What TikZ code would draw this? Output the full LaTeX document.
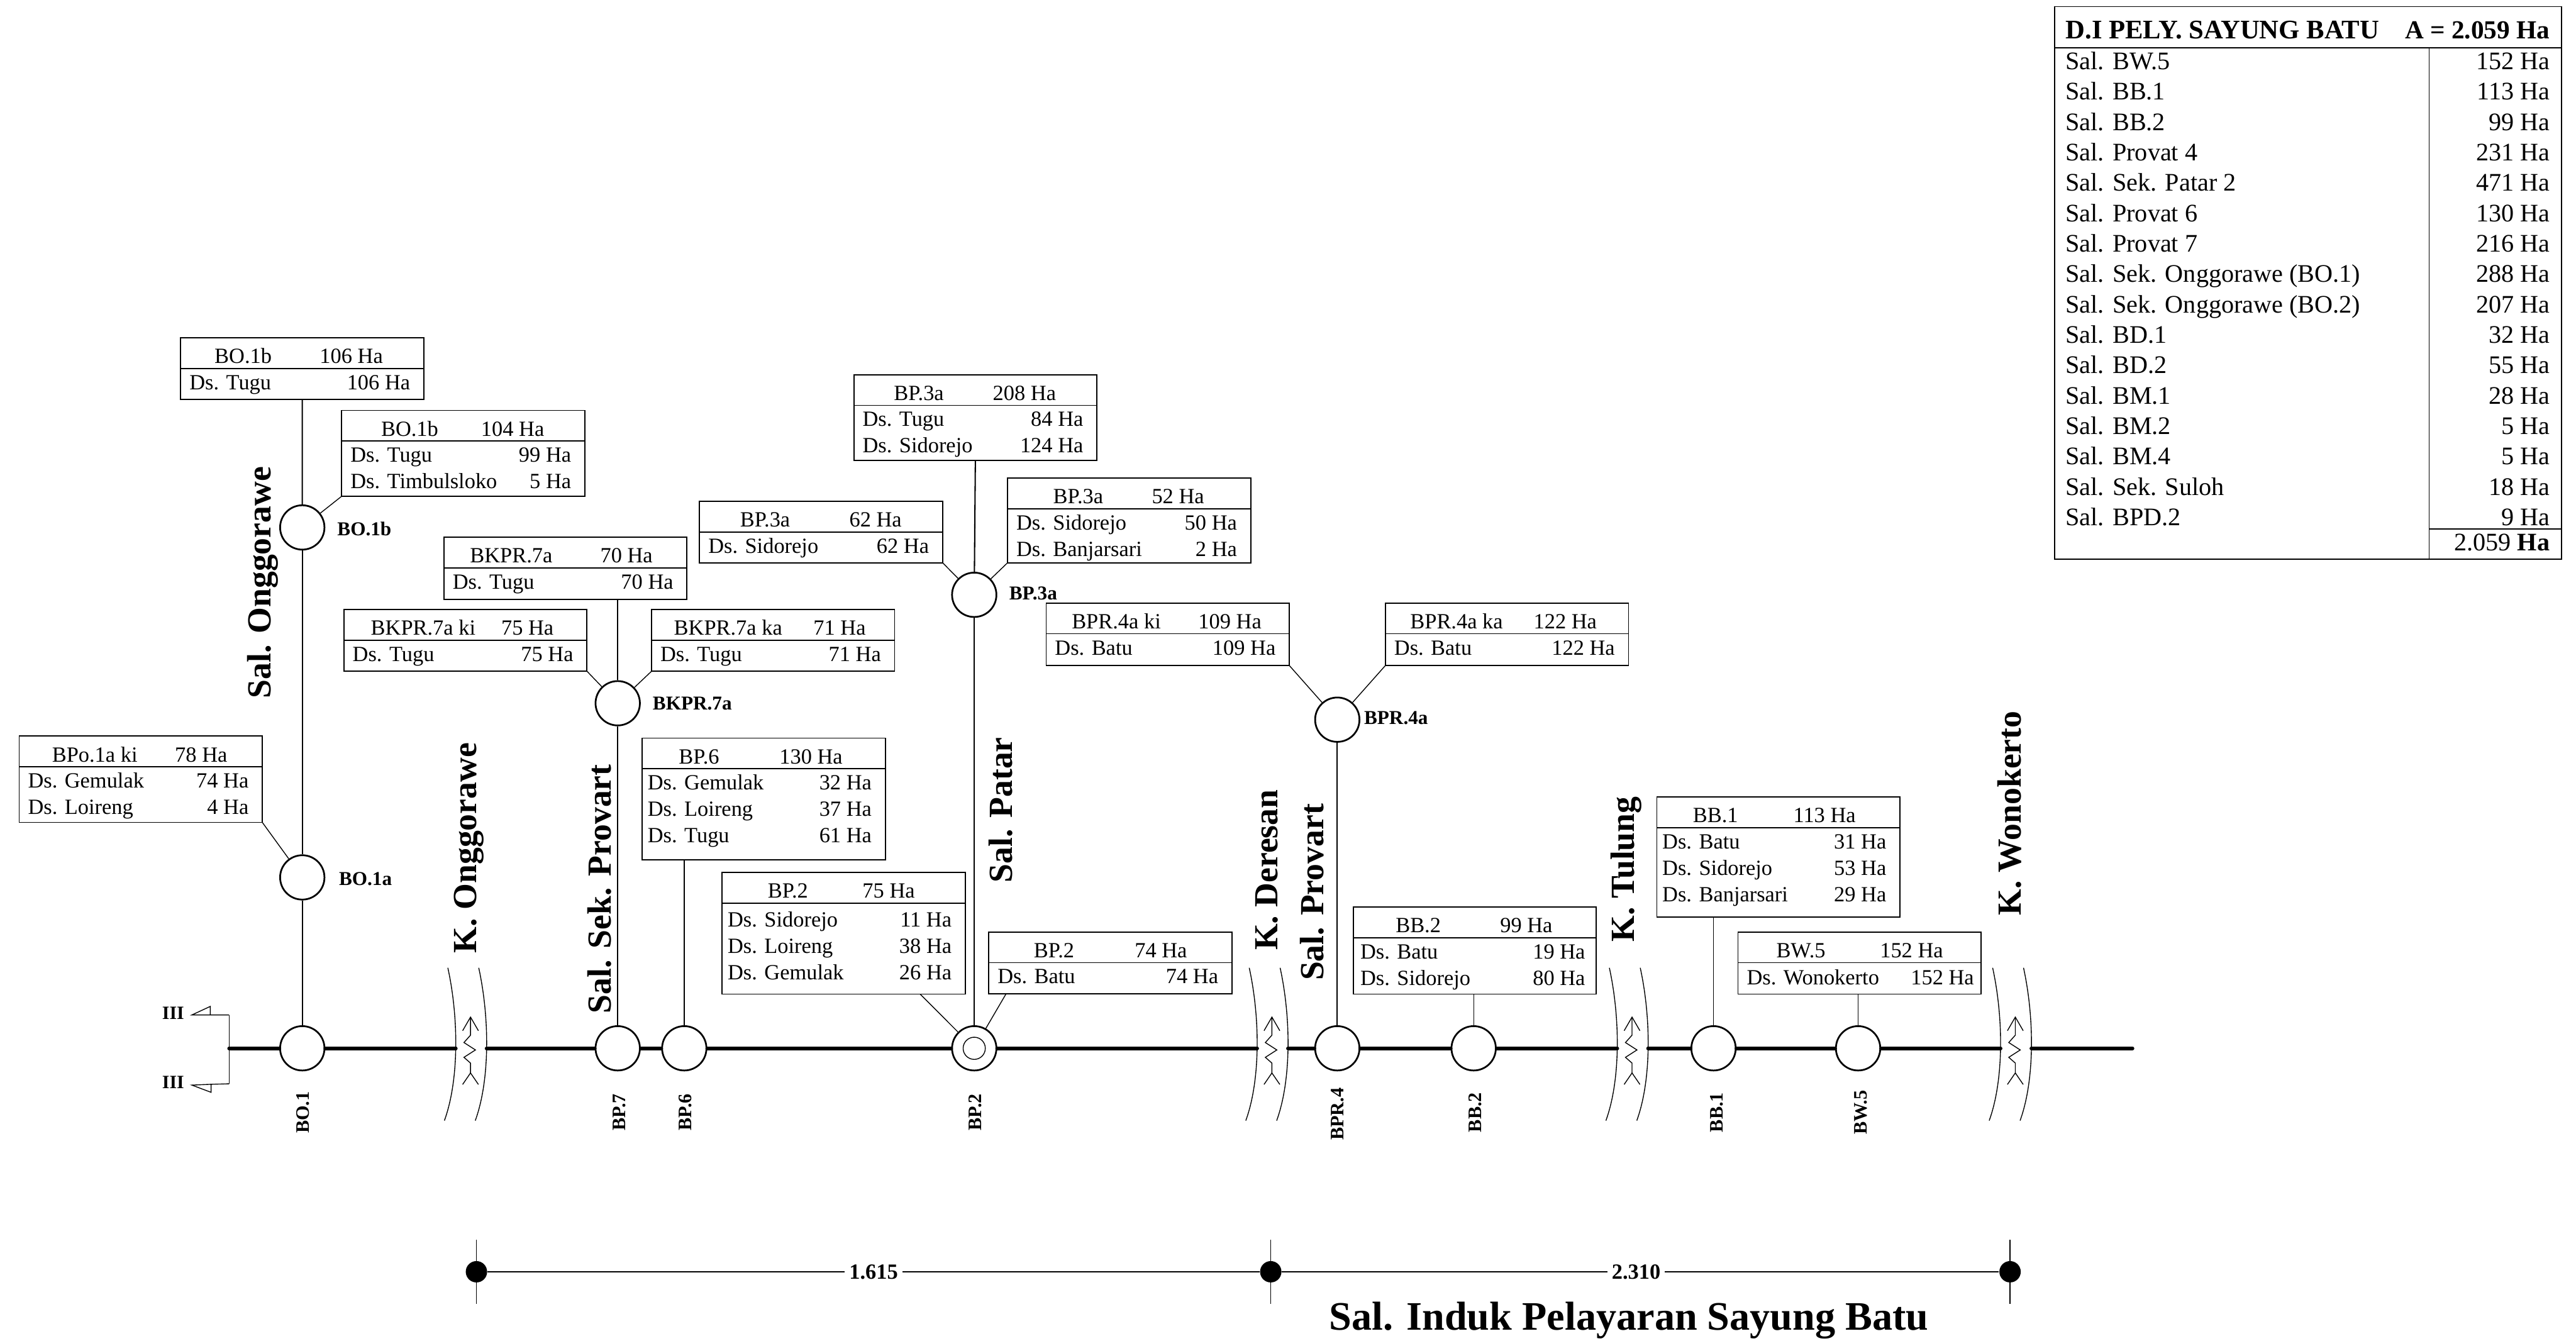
\documentclass[tikz,border=0pt]{standalone}
\usepackage{fontspec}
\setmainfont{Liberation Serif}
\usetikzlibrary{positioning, calc}

\newcommand{\fsize}[1]{\fontsize{#1}{#1}\selectfont}

% where the village rows of the next boxes start and end
\newcommand{\rowleft}{5}
\newcommand{\rowbase}{31.5}
\newcommand{\rowright}{140}
\newcommand{\boxrows}[3]{\renewcommand{\rowleft}{#1}\renewcommand{\rowbase}{#2}\renewcommand{\rowright}{#3}}

% box with one heading row and some village rows
\newcommand{\areabox}[9]{%
  \node[boxnode, minimum height=#4*0.02cm] (#1) at (#2,#3) {};
  \draw[boxline] (#1.north west) ++(0,18.7) -- ++(148,0);
  \node[boxtext, anchor=base] (#1-head) at (#2+#6,#3+15.6) {#5};
  \node[boxtext, anchor=base east] (#1-area) at (#2+#8,#3+15.6) {#7};
  \foreach \vname/\varea [count=\i] in {#9} {
    \node[boxtext, anchor=base west] (#1-v\i) at (#2+\rowleft,{#3+\rowbase+(\i-1)*16.1}) {\vname};
    \node[boxtext, anchor=base east] (#1-a\i) at (#2+\rowright,{#3+\rowbase+(\i-1)*16.1}) {\varea};
  }%
}

\begin{document}
\begin{tikzpicture}[
  x=0.02cm, y=-0.02cm,
  boxnode/.style={rectangle, draw, anchor=north west, minimum width=2.96cm, outer sep=0pt, inner sep=0pt, line width=0.4pt},
  boxline/.style={line width=0.4pt},
  boxtext/.style={inner sep=0pt, font=\fsize{7.5}},
  bapnode/.style={circle, draw, minimum size=0.54cm, inner sep=0pt, line width=0.6pt},
  baplabel/.style={anchor=west, inner sep=0pt, font=\bfseries\fsize{6.8}},
  bapdown/.style={rotate=90, inner sep=0pt, font=\bfseries\fsize{6.6}},
  chanlabel/.style={rotate=90, inner sep=0pt, font=\bfseries\fsize{11.7}},
  mainline/.style={line width=1.3pt, line cap=round},
  branch/.style={line width=0.45pt},
  feeder/.style={line width=0.3pt},
  riverline/.style={line width=0.3pt},
  dimdot/.style={circle, fill=black, minimum size=0.26cm, inner sep=0pt},
  dimline/.style={line width=0.45pt},
  dimlabel/.style={fill=white, inner sep=1.5pt, font=\bfseries\fsize{7.5}},
  tabtext/.style={inner sep=0pt, font=\fsize{8.75}},
]
\useasboundingbox (0,0) rectangle (1568,816);

%% Nodes on the main canal
\node[bapnode] (bo1)  at (184,638)   {};
\node[bapnode] (bp7)  at (376,638)   {};
\node[bapnode] (bp6)  at (416.5,638) {};
\node[bapnode] (bp2)  at (593,638)   {};
\node[circle, draw, minimum size=0.27cm, inner sep=0pt, line width=0.3pt] (bp2i) at (593,638) {};
\node[bapnode] (bpr4) at (814,638)   {};
\node[bapnode] (bb2)  at (897,638)   {};
\node[bapnode] (bb1)  at (1043,638)  {};
\node[bapnode] (bw5)  at (1131,638)  {};

\node[bapdown] (bo1-lab)  at (184.5,677) {BO.1};
\node[bapdown] (bp7-lab)  at (377,677)   {BP.7};
\node[bapdown] (bp6-lab)  at (417,677)   {BP.6};
\node[bapdown] (bp2-lab)  at (593.5,677) {BP.2};
\node[bapdown] (bpr4-lab) at (814,678)   {BPR.4};
\node[bapdown] (bb2-lab)  at (898,677)   {BB.2};
\node[bapdown] (bb1-lab)  at (1045,677)  {BB.1};
\node[bapdown] (bw5-lab)  at (1132.5,677) {BW.5};

%% Branch nodes
\node[bapnode] (bo1a)  at (184,534) {};
\node[bapnode] (bo1b)  at (184,321) {};
\node[bapnode] (bkpr7a) at (376,428) {};
\node[bapnode] (bp3a)  at (593,362) {};
\node[bapnode] (bpr4a) at (814,438) {};

\node[baplabel] (bo1a-lab)  at (206,535) {BO.1a};
\node[baplabel] (bo1b-lab)  at (205,322) {BO.1b};
\node[baplabel] (bkpr7a-lab) at (397,428) {BKPR.7a};
\node[baplabel] (bp3a-lab)  at (614,361) {BP.3a};
\node[baplabel] (bpr4a-lab) at (830,437) {BPR.4a};

%% Area boxes
\areabox{xbo1b}{110}{205.6}{37.6}{BO.1b}{38}{106 Ha}{123.4}{Ds. Tugu/106 Ha}
\areabox{xbo1bb}{208}{249.8}{52.2}{BO.1b}{41.4}{104 Ha}{123.6}{Ds. Tugu/99 Ha, Ds. Timbulsloko/5 Ha}
\areabox{xbo1a}{11.7}{448}{52.5}{BPo.1a ki}{46}{78 Ha}{127}{Ds. Gemulak/74 Ha, Ds. Loireng/4 Ha}
\areabox{xbkm}{270.2}{327}{37.8}{BKPR.7a}{41}{70 Ha}{127.4}{Ds. Tugu/70 Ha}
\areabox{xbkki}{209.3}{371}{37.5}{BKPR.7a ki}{48.3}{75 Ha}{128}{Ds. Tugu/75 Ha}
\areabox{xbkka}{396.6}{371}{37.5}{BKPR.7a ka}{46.6}{71 Ha}{130.7}{Ds. Tugu/71 Ha}
\boxrows{3}{31.5}{140}
\areabox{xbp6}{390.9}{449.2}{74}{BP.6}{34.6}{130 Ha}{122.3}{Ds. Gemulak/32 Ha, Ds. Loireng/37 Ha, Ds. Tugu/61 Ha}
\boxrows{3}{33}{140}
\areabox{xbp2a}{439.6}{531}{74}{BP.2}{40}{75 Ha}{117.6}{Ds. Sidorejo/11 Ha, Ds. Loireng/38 Ha, Ds. Gemulak/26 Ha}
\boxrows{5}{31.5}{140}
\areabox{xbp2b}{601.9}{567.2}{37.6}{BP.2}{39.7}{74 Ha}{121}{Ds. Batu/74 Ha}
\areabox{xbp3m}{519.7}{228}{52.3}{BP.3a}{39.6}{208 Ha}{123.4}{Ds. Tugu/84 Ha, Ds. Sidorejo/124 Ha}
\areabox{xbp3l}{425.8}{305}{37.5}{BP.3a}{39.9}{62 Ha}{123.4}{Ds. Sidorejo/62 Ha}
\areabox{xbp3r}{613.3}{291}{51.5}{BP.3a}{43}{52 Ha}{120}{Ds. Sidorejo/50 Ha, Ds. Banjarsari/2 Ha}
\areabox{xbpki}{636.8}{367}{38}{BPR.4a ki}{42.7}{109 Ha}{131.4}{Ds. Batu/109 Ha}
\areabox{xbpka}{843.3}{367}{38}{BPR.4a ka}{43.3}{122 Ha}{129}{Ds. Batu/122 Ha}
\boxrows{4}{31.5}{141.5}
\areabox{xbb2}{823.7}{552}{53}{BB.2}{39.6}{99 Ha}{121.6}{Ds. Batu/19 Ha, Ds. Sidorejo/80 Ha}
\boxrows{3}{31.5}{140}
\areabox{xbb1}{1008.5}{485}{73}{BB.1}{35.7}{113 Ha}{121.4}{Ds. Batu/31 Ha, Ds. Sidorejo/53 Ha, Ds. Banjarsari/29 Ha}
\boxrows{5}{32}{144}
\areabox{xbw5}{1057.9}{567.2}{37.8}{BW.5}{38.3}{152 Ha}{125.2}{Ds. Wonokerto/152 Ha}

%% Rivers crossing the canal
\foreach \rx [count=\r] in {277.4,765.2,984.4,1217.7} {
  \coordinate (r\r-l) at (\rx,638);
  \coordinate (r\r-r) at (\rx+18.8,638);
  \draw[riverline] (\rx-4.8,589) .. controls (\rx+1.95,620) and (\rx+1.95,657.7) .. (\rx-6.9,682);
  \draw[riverline] (\rx+14,589) .. controls (\rx+20.75,620) and (\rx+20.75,657.7) .. (\rx+11.9,682);
  \draw[riverline] (\rx+4.2,627.3) -- (\rx+9,619) -- (\rx+13.8,627.3);
  \draw[riverline] (\rx+9,619) -- (\rx+9,630) -- (\rx+5,634.5) -- (\rx+12,639) -- (\rx+5,643.5) -- (\rx+9,647) -- (\rx+9,653);
  \draw[riverline] (\rx+4.2,660) -- (\rx+9,653) -- (\rx+13.8,660);
}

%% Main canal
\coordinate (mstart) at (139.5,638);
\coordinate (mend) at (1298,638);
\draw[mainline] (mstart) -- (bo1) -- (r1-l);
\draw[mainline] (r1-r) -- (bp7) -- (bp6) -- (bp2) -- (r2-l);
\draw[mainline] (r2-r) -- (bpr4) -- (bb2) -- (r3-l);
\draw[mainline] (r3-r) -- (bb1) -- (bw5) -- (r4-l);
\draw[mainline] (r4-r) -- (mend);

%% Section marks at the head of the canal
\coordinate (sect) at (139.5,617.7);
\coordinate (secb) at (139.5,659.6);
\node[inner sep=0pt, font=\bfseries\fsize{6.5}] (sec1) at (105.4,616.5) {III};
\node[inner sep=0pt, font=\bfseries\fsize{6.5}] (sec2) at (105.4,658.6) {III};
\draw[riverline] (sect) -- (128,617.7) -- (128,612.5) -- (116.8,617.7) -- (128,617.7);
\draw[riverline] (sect) -- (secb);
\draw[riverline] (secb) -- (128.5,659.9) -- (128.5,664.8) -- (116.8,660.4) -- (128.5,659.9);

%% Branch canals
\draw[branch] (bo1) -- (bo1a);
\draw[branch] (bo1a) -- (bo1b);
\draw[branch] (bo1b) -- (xbo1b.south);
\draw[feeder] (bo1b) -- (xbo1bb.south west);
\draw[feeder] (bo1a) -- (xbo1a.south east);

\draw[branch] (bp7) -- (bkpr7a);
\draw[branch] (bkpr7a) -- (xbkm.south -| bkpr7a);
\draw[feeder] (bkpr7a) -- (xbkki.south east);
\draw[feeder] (bkpr7a) -- (xbkka.south west);
\draw[branch] (bp6) -- (xbp6.south -| bp6);

\draw[branch] (bp2) -- (bp3a);
\draw[branch] (bp3a) -- (xbp3m.south);
\draw[feeder] (bp3a) -- (xbp3l.south east);
\draw[feeder] (bp3a) -- (xbp3r.south west);
\draw[feeder] (bp2) -- ([xshift=2.41cm]xbp2a.south west);
\draw[feeder] (bp2) -- ([xshift=0.21cm]xbp2b.south west);

\draw[branch] (bpr4) -- (bpr4a);
\draw[feeder] (bpr4a) -- (xbpki.south east);
\draw[feeder] (bpr4a) -- (xbpka.south west);
\draw[feeder] (bb2) -- (xbb2.south -| bb2);
\draw[feeder] (bb1) -- (xbb1.south -| bb1);
\draw[feeder] (bw5) -- (xbw5.south -| bw5);

%% Channel and river names
\node[chanlabel] (nonggo)  at (160,354.5) {Sal. Onggorawe};
\node[chanlabel] (konggo)  at (285.5,516) {K. Onggorawe};
\node[chanlabel] (nprov)   at (365,541)   {Sal. Sek. Provart};
\node[chanlabel] (npatar)  at (609,493)   {Sal. Patar};
\node[chanlabel] (kderes)  at (771,529.5) {K. Deresan};
\node[chanlabel] (nprov4)  at (798.5,543) {Sal. Provart};
\node[chanlabel] (ktulung) at (990,529)   {K. Tulung};
\node[chanlabel] (kwono)   at (1223,495)  {K. Wonokerto};

%% Length line
\node[dimdot] (dot1) at (290,774)  {};
\node[dimdot] (dot2) at (773.5,774) {};
\node[dimdot] (dot3) at (1223.5,774) {};
\draw[dimline] (dot1) -- node[dimlabel, pos=0.5] (len1) {1.615} (dot2);
\draw[dimline] (dot2) -- node[dimlabel, pos=0.494] (len2) {2.310} (dot3);
\foreach \d in {dot1,dot2,dot3} {
  \draw[feeder] (\d) ++(0,-19.4) -- ++(0,38.8);
}
\node[anchor=base, inner sep=0pt, font=\bfseries\fsize{14}] (title) at (991.5,809.6) {Sal. Induk Pelayaran Sayung Batu};

%% Area table
\node[boxnode, minimum width=6.172cm, minimum height=6.73cm] (tab) at (1250.7,4) {};
\coordinate (tabcol) at (1478.6,29);
\coordinate (tabsep) at (1478.6,322);
\draw[boxline] (tab.north west) ++(0,25) -- ++(308.6,0);
\draw[boxline] (tabcol) -- (tab.south -| tabcol);
\draw[boxline] (tabsep) -- (tab.east |- tabsep);
\node[tabtext, anchor=base west, font=\bfseries\fsize{9.3}] (tabhead) at (1257,23.7) {D.I PELY. SAYUNG BATU};
\node[tabtext, anchor=base east, font=\bfseries\fsize{9}] (tabsum) at (1552.3,23.7) {A = 2.059 Ha};
\foreach \sname/\sarea [count=\i] in {Sal. BW.5/152 Ha, Sal. BB.1/113 Ha, Sal. BB.2/99 Ha, Sal. Provat 4/231 Ha,
    Sal. Sek. Patar 2/471 Ha, Sal. Provat 6/130 Ha, Sal. Provat 7/216 Ha, Sal. Sek. Onggorawe (BO.1)/288 Ha,
    Sal. Sek. Onggorawe (BO.2)/207 Ha, Sal. BD.1/32 Ha, Sal. BD.2/55 Ha, Sal. BM.1/28 Ha, Sal. BM.2/5 Ha,
    Sal. BM.4/5 Ha, Sal. Sek. Suloh/18 Ha, Sal. BPD.2/9 Ha} {
  \node[tabtext, anchor=base west] (tabn\i) at (1257,{42.3+(\i-1)*18.5}) {\sname};
  \node[tabtext, anchor=base east] (taba\i) at (1552.3,{42.3+(\i-1)*18.5}) {\sarea};
}
\node[tabtext, anchor=base east] (tabtot) at (1552.3,335) {2.059 \textbf{Ha}};

\end{tikzpicture}
\end{document}
